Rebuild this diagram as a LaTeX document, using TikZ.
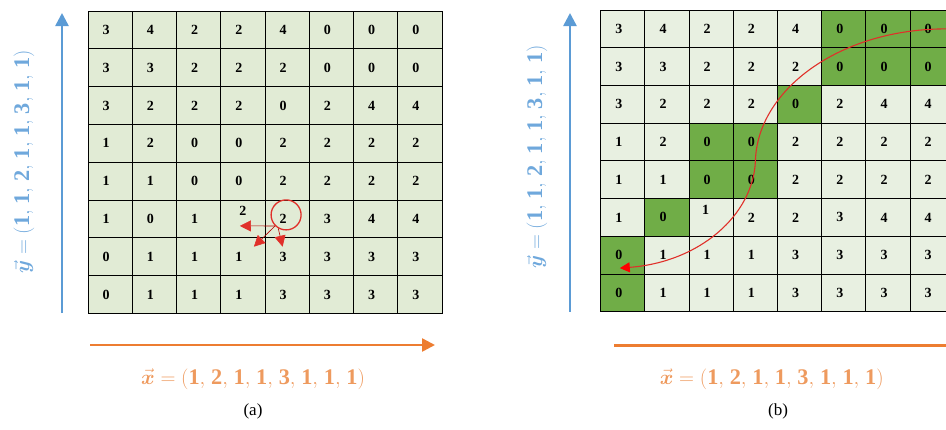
\documentclass[tikz,border=0pt]{standalone}
\usepackage{amsmath}
\usepackage{fontspec}
\setmainfont{Liberation Serif}
\usetikzlibrary{arrows.meta, positioning, calc}
\definecolor{cellA}{HTML}{E1EBD5}
\definecolor{cellB}{HTML}{E8F0E1}
\definecolor{darkcell}{HTML}{70AD47}
\definecolor{axisblue}{HTML}{5B9BD5}
\definecolor{axisorange}{HTML}{ED7D31}
\definecolor{lblblue}{HTML}{6FA8DC}
\definecolor{lblorange}{HTML}{EE9A5E}
\definecolor{markred}{HTML}{E0302A}
\newcommand{\seqsep}{,\mskip2mu}
\newcommand{\yseq}{\ensuremath{\vec{\boldsymbol{y}} = (\mathbf{1}\seqsep\mathbf{1}\seqsep\mathbf{2}\seqsep\mathbf{1}\seqsep\mathbf{1}\seqsep\mathbf{3}\seqsep\mathbf{1}\seqsep\mathbf{1})}}
\newcommand{\xseq}{\ensuremath{\vec{\boldsymbol{x}} = (\mathbf{1}\seqsep\mathbf{2}\seqsep\mathbf{1}\seqsep\mathbf{1}\seqsep\mathbf{3}\seqsep\mathbf{1}\seqsep\mathbf{1}\seqsep\mathbf{1})}}

\begin{document}
\begin{tikzpicture}[
    x=1pt, y=-1pt,
    cell/.style={draw, line width=0.9pt, minimum width=44.25pt,
                 minimum height=37.8pt, inner sep=0pt,
                 font=\fontsize{14}{16}\selectfont\bfseries,
                 execute at end node={\hspace{8pt}}},
    cellnum/.style={inner sep=0pt, font=\fontsize{14}{16}\selectfont\bfseries},
    yaxis/.style={draw=axisblue, line width=2.5pt,
                  -{Triangle[length=13pt, width=13pt]}},
    xaxis/.style={draw=axisorange, line width=2.5pt,
                  -{Triangle[length=13pt, width=13pt]}},
    ylbl/.style={text=lblblue, rotate=90, font=\fontsize{22.3}{26}\selectfont},
    xlbl/.style={text=lblorange, font=\fontsize{22.3}{26}\selectfont},
    capt/.style={font=\fontsize{17}{20}\selectfont},
    ring/.style={draw=markred, circle, line width=1.3pt, minimum size=30pt},
    redarr/.style={draw=red!70!black, line width=0.6pt,
                   -{Triangle[length=11pt, width=11pt, color=markred]}},
    flowline/.style={draw=markred, line width=1.1pt,
                     -{Triangle[length=10pt, width=10pt, color=red]}}
  ]
  \useasboundingbox (0,0) rectangle (946,429);
  \clip (0,0) rectangle (946,429);

  % Panel (a): cost grid
  \foreach \row [count=\j from 0] in {{3,4,2,2,4,0,0,0},{3,3,2,2,2,0,0,0},
      {3,2,2,2,0,2,4,4},{1,2,0,0,2,2,2,2},{1,1,0,0,2,2,2,2},
      {1,0,1,,2,3,4,4},{0,1,1,1,3,3,3,3},{0,1,1,1,3,3,3,3}} {
    \foreach \v [count=\i from 0] in \row {
      \node[cell, fill=cellA] (a-\j-\i) at (110.1+\i*44.25, 29.9+\j*37.8) {\v};
    }
  }
  \node[cellnum] (a-5-3n) at ([yshift=8pt]a-5-3.center) {2};

  % Neighbour search around the marked cell
  \node[ring] (ring) at ([xshift=-1pt, yshift=4pt]a-5-4.center) {};
  \draw[redarr] (ring.225) -- ([xshift=-3pt, yshift=-7pt]a-5-3.center);
  \draw[redarr] (ring.225) -- ([xshift=11pt, yshift=10pt]a-6-3.center);
  \draw[redarr] (ring.240) -- ([xshift=-4.5pt, yshift=10pt]a-6-4.center);

  % Axes of panel (a)
  \coordinate (ya-from) at (62,313);
  \coordinate (ya-to) at (62,13);
  \draw[yaxis] (ya-from) -- (ya-to);
  \node[ylbl] (ylab-a) at (24,162) {\yseq};
  \coordinate (xa-from) at (90,345);
  \coordinate (xa-to) at (435,345);
  \draw[xaxis] (xa-from) -- (xa-to);
  \node[xlbl] (xlab-a) at (253,379) {\xseq};
  \node[capt] (cap-a) at (253,411) {(a)};

  % Panel (b): same grid with the warping path
  \foreach \row [count=\j from 0] in {{3,4,2,2,4,0,0,0},{3,3,2,2,2,0,0,0},
      {3,2,2,2,0,2,4,4},{1,2,0,0,2,2,2,2},{1,1,0,0,2,2,2,2},
      {1,0,,2,2,3,4,4},{0,1,1,1,3,3,3,3},{0,1,1,1,3,3,3,3}} {
    \foreach \v [count=\i from 0] in \row {
      \node[cell, fill=cellB, minimum width=44.2pt, minimum height=37.7pt]
        (b-\j-\i) at (622.8+\i*44.2, 28.9+\j*37.7) {\v};
    }
  }
  \foreach \j/\i in {0/5,0/6,0/7,1/5,1/6,1/7,2/4,3/2,3/3,4/2,4/3,5/1,6/0,7/0} {
    \node[cell, fill=darkcell, minimum width=44.2pt, minimum height=37.7pt]
      at (b-\j-\i) {0};
  }
  \node[cellnum] (b-5-2n) at ([xshift=-5.5pt, yshift=8pt]b-5-2.center) {1};

  \coordinate (curvestart) at ([xshift=16pt]b-0-7.center);
  \coordinate (curveend) at ([xshift=-3pt, yshift=-13pt]b-6-0.center);
  \draw[flowline] (curvestart) .. controls (840,28) and (757,90) .. (b-3-3.south)
    .. controls (753,215) and (700,262) .. (curveend);

  % Axes of panel (b)
  \coordinate (yb-from) at (570,311.7);
  \coordinate (yb-to) at (570,13);
  \draw[yaxis] (yb-from) -- (yb-to);
  \node[ylbl] (ylab-b) at (537,157) {\yseq};
  \coordinate (xb-from) at (614,345.7);
  \coordinate (xb-to) at (959,345.7);
  \draw[xaxis] (xb-from) -- (xb-to);
  \node[xlbl] (xlab-b) at (771.7,379) {\xseq};
  \node[capt] (cap-b) at (778,411) {(b)};
\end{tikzpicture}
\end{document}
